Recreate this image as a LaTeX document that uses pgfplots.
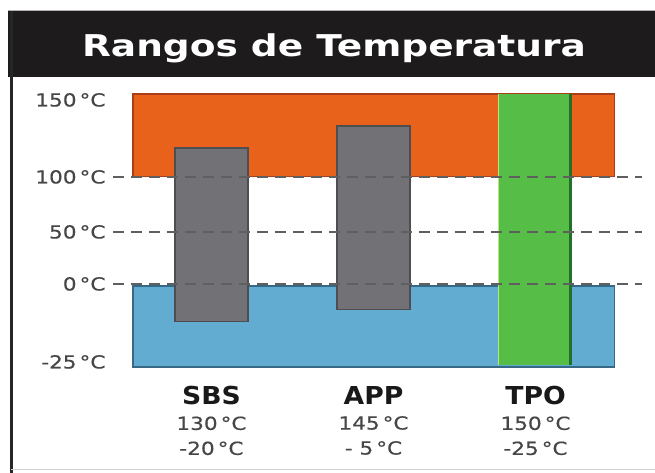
\documentclass[border=0pt]{standalone}
\usepackage{pgfplots}
\pgfplotsset{compat=1.18}
\usepackage{fontspec}
\setmainfont{DejaVu Sans}
\newfontfamily\tickfam[FakeStretch=1.2, FakeBold=0.4]{DejaVu Sans}
\newfontfamily\catfam[FakeStretch=1.08]{DejaVu Sans Bold}
\newfontfamily\titlefam[FakeStretch=1.25]{DejaVu Sans Bold}
\definecolor{orangefill}{RGB}{233,98,28}
\definecolor{orangeedge}{RGB}{170,62,22}
\definecolor{bluefill}{RGB}{98,172,210}
\definecolor{blueedge}{RGB}{55,105,135}
\definecolor{barfill}{RGB}{114,114,118}
\definecolor{baredge}{RGB}{78,78,82}
\definecolor{greenfill}{RGB}{86,190,70}
\definecolor{greenlight}{RGB}{185,228,130}
\definecolor{greendark}{RGB}{35,112,42}
\definecolor{dashgray}{RGB}{95,95,95}
\definecolor{tickgray}{RGB}{70,70,70}
\definecolor{catblack}{RGB}{25,25,25}
\definecolor{titlebg}{RGB}{30,27,28}
\newcommand\cat[1]{{\fontsize{24.7}{28}\catfam\color{catblack}#1}}
\newcommand\yl[2]{\raisebox{#1}[13pt][0pt]{#2}}
\begin{document}
\begin{tikzpicture}
\useasboundingbox (0,0) rectangle (655pt,473pt);
\fill[white] (0,0) rectangle (655pt,473pt);
\fill[titlebg] (8pt,396pt) rectangle (655pt,462pt);
\draw[gray!60, line width=1pt] (8pt,462.5pt) -- (655pt,462.5pt);
\node[text=white, font=\fontsize{30}{32}\titlefam, anchor=base] at (334pt,416pt) {Rangos de Temperatura};
\draw[black!85, line width=3pt] (11pt,0pt) -- (11pt,462pt);
\draw[gray!35, line width=1pt] (11pt,3pt) -- (655pt,3pt);
\begin{axis}[
  at={(113pt,106pt)}, anchor=south west,
  scale only axis, width=529pt, height=273pt,
  xmin=-0.608, xmax=2.657, ymin=-25, ymax=150,
  y coord trafo/.code={\pgfmathparse{#1<0 ? ((#1)+25)*3.32 : (#1<50 ? 83+1.04*(#1) : (#1<100 ? 135+1.1*((#1)-50) : 190+1.66*((#1)-100)))}},
  axis line style={draw=none},
  major tick length=0pt,
  xtick={0,1,2},
  xticklabels={{\cat{SBS}\\130\,°C\\-20\,°C},{\cat{APP}\\145\,°C\\-\ 5\,°C},{\cat{TPO}\\150\,°C\\-25\,°C}},
  xticklabel style={align=center, anchor=north, yshift=-16pt, font=\fontsize{18}{25}\tickfam, text=tickgray},
  ytick={-25,0,50,100,150},
  yticklabels={\yl{5pt}{-25\,°C},\yl{0pt}{0\,°C},\yl{0pt}{50\,°C},\yl{0pt}{100\,°C},\yl{-6pt}{150\,°C}},
  yticklabel style={anchor=east, xshift=-4pt, font=\fontsize{18}{20}\tickfam, text=tickgray},
  clip=false,
]
% background ranges
\addplot[fill=orangefill, draw=orangeedge, line width=1.2pt] coordinates {(-0.485,100.5) (2.485,100.5) (2.485,150) (-0.485,150)} -- cycle;
\addplot[fill=bluefill, draw=blueedge, line width=1.2pt] coordinates {(-0.485,-25) (2.485,-25) (2.485,-0.6) (-0.485,-0.6)} -- cycle;
% material bars
\addplot[fill=barfill, draw=baredge, line width=1.2pt] coordinates {(-0.225,-11.4) (0.225,-11.4) (0.225,117.5) (-0.225,117.5)} -- cycle;
\addplot[fill=barfill, draw=baredge, line width=1.2pt] coordinates {(0.775,-7.8) (1.225,-7.8) (1.225,130.7) (0.775,130.7)} -- cycle;
\addplot[fill=greenfill, draw=none] coordinates {(1.769,-24.4) (2.225,-24.4) (2.225,150) (1.769,150)} -- cycle;
\addplot[greenlight, line width=1.5pt] coordinates {(1.772,-24.4) (1.772,150)};
\addplot[greendark, line width=3pt] coordinates {(2.216,-24.4) (2.216,150)};
% dashed reference lines
\addplot[dashgray, line width=1.3pt, dash pattern=on 11pt off 7pt] coordinates {(-0.608,100) (2.657,100)};
\addplot[dashgray, line width=1.3pt, dash pattern=on 11pt off 7pt] coordinates {(-0.608,50) (2.657,50)};
\addplot[dashgray, line width=1.3pt, dash pattern=on 11pt off 7pt] coordinates {(-0.608,0) (2.657,0)};
\end{axis}
\end{tikzpicture}
\end{document}
